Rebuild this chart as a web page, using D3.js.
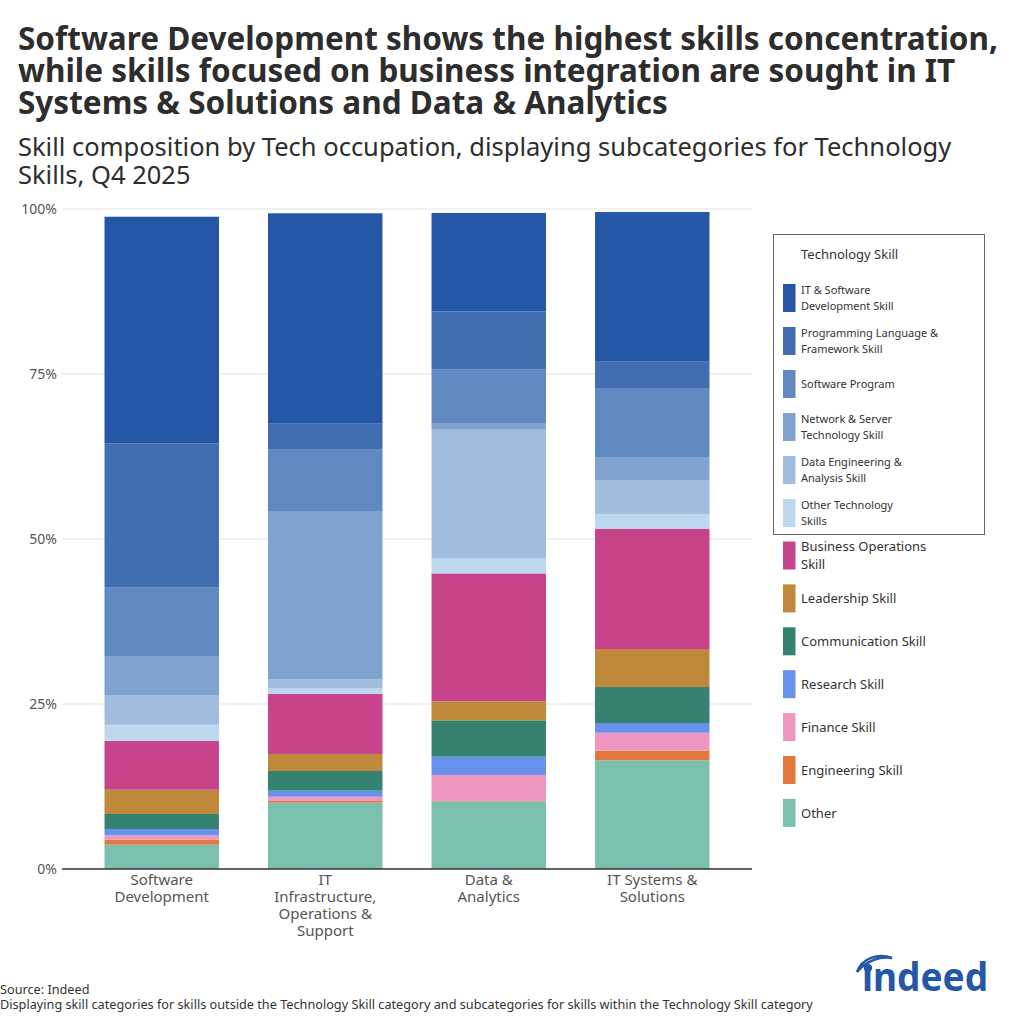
<!DOCTYPE html>
<html>
<head>
<meta charset="utf-8">
<script src="https://cdn.jsdelivr.net/npm/d3@7"></script>
<style>
  body { margin: 0; background: #fff; }
  svg { display: block; font-family: "Noto Sans", sans-serif; }
</style>
</head>
<body>
<div id="chart"></div>
<script>
// occupations (x axis)
let occupations = [
  ["Software", "Development"],
  ["IT", "Infrastructure,", "Operations &", "Support"],
  ["Data &", "Analytics"],
  ["IT Systems &", "Solutions"]
];

// skill shares in %, one value per occupation, listed bottom -> top
let other          = [3.68, 10.05, 10.26, 16.47];
let engineering    = [0.76, 0.26, 0.05, 1.45];
let finance        = [0.67, 0.65, 3.94, 2.73];
let research       = [0.95, 0.91, 2.77, 1.47];
let communication  = [2.27, 2.98, 5.50, 5.45];
let leadership     = [3.68, 2.58, 2.88, 5.76];
let businessOps    = [7.38, 9.09, 19.39, 18.23];
let otherTech      = [2.47, 0.86, 2.23, 2.23];
let dataEng        = [4.50, 1.36, 19.55, 5.15];
let networkServer  = [5.91, 25.50, 1.01, 3.38];
let softwareProg   = [10.35, 9.29, 8.08, 10.56];
let progLanguage   = [21.88, 3.94, 8.83, 3.98];
let itSoftware     = [34.33, 31.88, 14.91, 22.68];

let yTicks = [0, 25, 50, 75, 100];

let series = [
  { key: "other", label: ["Other"], values: other, color: "#7bc0ae", tech: false },
  { key: "eng", label: ["Engineering Skill"], values: engineering, color: "#e2783b", tech: false },
  { key: "fin", label: ["Finance Skill"], values: finance, color: "#ee98c1", tech: false },
  { key: "res", label: ["Research Skill"], values: research, color: "#6691ec", tech: false },
  { key: "comm", label: ["Communication Skill"], values: communication, color: "#358270", tech: false },
  { key: "lead", label: ["Leadership Skill"], values: leadership, color: "#c0883a", tech: false },
  { key: "bus", label: ["Business Operations", "Skill"], values: businessOps, color: "#c7438a", tech: false },
  { key: "otech", label: ["Other Technology", "Skills"], values: otherTech, color: "#bdd7ee", tech: true },
  { key: "data", label: ["Data Engineering &", "Analysis Skill"], values: dataEng, color: "#a0bde0", tech: true },
  { key: "net", label: ["Network & Server", "Technology Skill"], values: networkServer, color: "#7fa2cf", tech: true },
  { key: "sw", label: ["Software Program"], values: softwareProg, color: "#5f89c0", tech: true },
  { key: "prog", label: ["Programming Language &", "Framework Skill"], values: progLanguage, color: "#416eb0", tech: true },
  { key: "itsw", label: ["IT & Software", "Development Skill"], values: itSoftware, color: "#2557a6", tech: true }
];

let table = occupations.map((o, i) => {
  let row = { occ: o.join(" ") };
  series.forEach(s => row[s.key] = s.values[i]);
  return row;
});

let width = 1024, height = 1024;
let svg = d3.select("#chart").append("svg")
  .attr("width", width).attr("height", height);

// titles
let title = ["Software Development shows the highest skills concentration,",
  "while skills focused on business integration are sought in IT",
  "Systems & Solutions and Data & Analytics"];
svg.selectAll(".title").data(title).enter().append("text")
  .attr("x", 18).attr("y", (d, i) => 50 + i * 32)
  .attr("font-size", 31.5).attr("font-weight", 700).attr("fill", "#2d2d2d")
  .text(d => d);

let subtitle = ["Skill composition by Tech occupation, displaying subcategories for Technology",
  "Skills, Q4 2025"];
svg.selectAll(".sub").data(subtitle).enter().append("text")
  .attr("x", 18).attr("y", (d, i) => 156 + i * 28)
  .attr("font-size", 25.5).attr("fill", "#2d2d2d")
  .text(d => d);

// scales
let x = d3.scaleBand()
  .domain(table.map(d => d.occ))
  .range([62, 752])
  .paddingInner(0.3).paddingOuter(0.26);

let y = d3.scaleLinear().domain([0, 100]).range([869, 209]);

// grid
let g = svg.append("g");
g.selectAll(".grid").data(yTicks).enter().append("line")
  .attr("x1", 62).attr("x2", 752)
  .attr("y1", d => y(d)).attr("y2", d => y(d))
  .attr("stroke", "#e3e3e3").attr("stroke-width", 1);

g.selectAll(".ylab").data(yTicks).enter().append("text")
  .attr("x", 57).attr("y", d => y(d)).attr("dy", "0.35em")
  .attr("text-anchor", "end").attr("font-size", 14).attr("fill", "#555")
  .text(d => d + "%");

// stacked bars
let stack = d3.stack().keys(series.map(s => s.key));
let layers = stack(table);

g.selectAll(".layer").data(layers).enter().append("g")
  .attr("fill", (d, i) => series[i].color)
  .selectAll("rect").data(d => d).enter().append("rect")
  .attr("x", d => x(d.data.occ))
  .attr("width", x.bandwidth())
  .attr("y", d => y(d[1]))
  .attr("height", d => Math.max(0, y(d[0]) - y(d[1])));

// baseline
g.append("line")
  .attr("x1", 62).attr("x2", 752).attr("y1", y(0)).attr("y2", y(0))
  .attr("stroke", "#333").attr("stroke-width", 1.5);

// x labels
let xl = g.selectAll(".xlab").data(occupations).enter().append("text")
  .attr("text-anchor", "middle").attr("font-size", 15).attr("fill", "#555");
xl.selectAll("tspan").data((d, i) => d.map(t => ({ t: t, occ: occupations[i].join(" ") })))
  .enter().append("tspan")
  .attr("x", d => x(d.occ) + x.bandwidth() / 2)
  .attr("y", (d, j) => 885 + j * 17)
  .text(d => d.t);

// legend
let techSeries = series.filter(s => s.tech).reverse();
let otherSeries = series.filter(s => !s.tech).reverse();

let leg = svg.append("g");
leg.append("rect")
  .attr("x", 773.5).attr("y", 234.5).attr("width", 211).attr("height", 300)
  .attr("fill", "none").attr("stroke", "#666").attr("stroke-width", 1);
leg.append("text")
  .attr("x", 801).attr("y", 259).attr("font-size", 13).attr("fill", "#333")
  .text("Technology Skill");

let techItems = leg.selectAll(".ti").data(techSeries).enter().append("g")
  .attr("transform", (d, i) => "translate(783," + (284 + i * 43) + ")");
techItems.append("rect").attr("width", 12.5).attr("height", 28)
  .attr("fill", d => d.color);
techItems.append("text").attr("font-size", 11).attr("fill", "#333")
  .selectAll("tspan").data(d => d.label).enter().append("tspan")
  .attr("x", 18)
  .attr("y", (t, j, nodes) => nodes.length === 1 ? 18 : 10 + j * 16)
  .text(t => t);

let otherItems = leg.selectAll(".oi").data(otherSeries).enter().append("g")
  .attr("transform", (d, i) => "translate(783," + (541.5 + i * 42.9) + ")");
otherItems.append("rect").attr("width", 12.5).attr("height", 28)
  .attr("fill", d => d.color);
otherItems.append("text").attr("font-size", 13).attr("fill", "#333")
  .selectAll("tspan").data(d => d.label).enter().append("tspan")
  .attr("x", 18)
  .attr("y", (t, j, nodes) => nodes.length === 1 ? 19 : 9.5 + j * 18)
  .text(t => t);

// footer
svg.append("text").attr("x", 0).attr("y", 994)
  .attr("font-size", 12.7).attr("fill", "#333").text("Source: Indeed");
svg.append("text").attr("x", 0).attr("y", 1009)
  .attr("font-size", 12.7).attr("fill", "#333")
  .text("Displaying skill categories for skills outside the Technology Skill category and subcategories for skills within the Technology Skill category");

// indeed logo
let logo = svg.append("g").attr("fill", "#2557a7");
logo.append("text").attr("x", 862).attr("y", 991)
  .attr("font-size", 40).attr("font-weight", 700)
  .attr("textLength", 126).attr("lengthAdjust", "spacingAndGlyphs")
  .text("ındeed");
logo.append("path")
  .attr("d", "M857,972 C862,958 878,953 892,958 C880,956 866,961 857,972 Z")
  .attr("stroke", "#2557a7").attr("stroke-width", 2.5).attr("fill", "none");
logo.append("circle").attr("cx", 868).attr("cy", 968).attr("r", 4.2);
</script>
</body>
</html>
